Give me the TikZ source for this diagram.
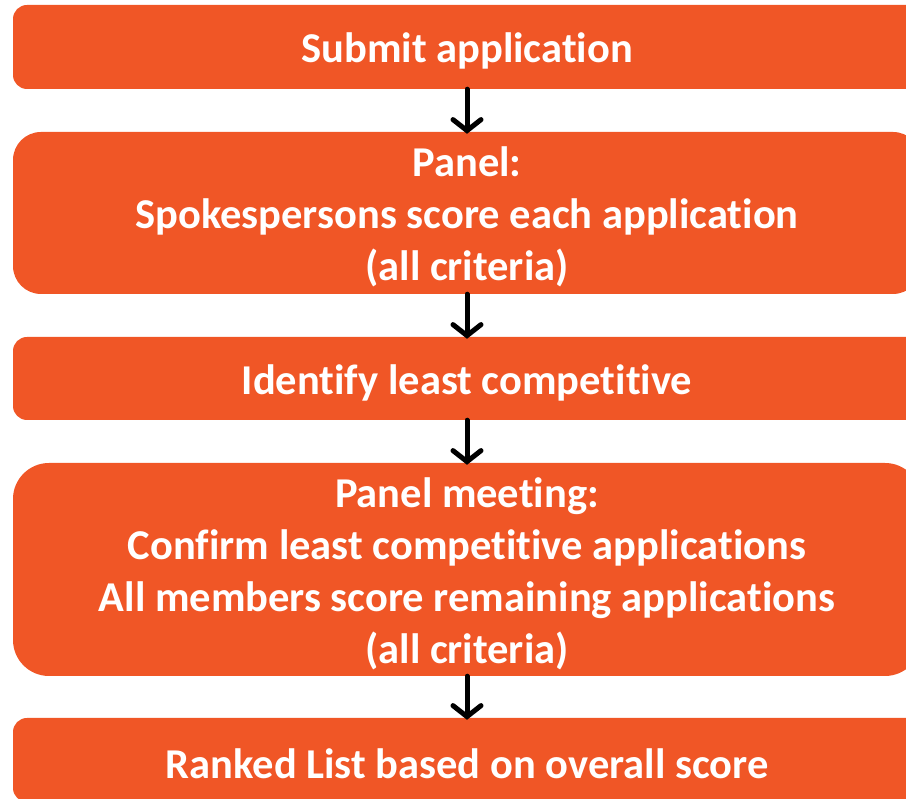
\documentclass[tikz,border=0pt]{standalone}
\usepackage{fontspec}
\setmainfont[Ligatures=NoCommon]{Carlito}
\usetikzlibrary{arrows.meta}
\definecolor{boxorange}{RGB}{240,86,38}
\tikzset{
  stepbox/.style={fill=boxorange, draw=none, minimum width=908pt, inner sep=0pt},
  boxtext/.style={text=white, align=center, inner sep=0pt, yshift=-4pt,
    font=\bfseries\fontsize{42.5}{52}\selectfont},
  flowarrow/.style={line width=5pt, line cap=round,
    -{Straight Barb[length=11pt,width=28pt,line cap=round]}}
}
\begin{document}
\begin{tikzpicture}[x=1pt,y=1pt]
\useasboundingbox (0,0) rectangle (906,799);
\clip (0,0) rectangle (906,799);
\node[stepbox, minimum height=84pt, rounded corners=14pt] (b1) at (467,752) {};
\node[stepbox, minimum height=162pt, rounded corners=28pt] (b2) at (467,586) {};
\node[stepbox, minimum height=83pt, rounded corners=14pt] (b3) at (467,420.5) {};
\node[stepbox, minimum height=213pt, rounded corners=36pt] (b4) at (467,229.5) {};
\node[stepbox, minimum height=84pt, rounded corners=14pt] (b5) at (467,39) {};
\node[boxtext] (t1) at (b1.center) {Submit application};
\node[boxtext] (t2) at (b2.center) {Panel:\\Spokespersons score each application\\(all criteria)};
\node[boxtext] (t3) at (b3.center) {Identify least competitive};
\node[boxtext] (t4) at (b4.center) {Panel meeting:\\Confirm least competitive applications\\All members score remaining applications\\(all criteria)};
\node[boxtext] (t5) at (b5.center) {Ranked List based on overall score};
\draw[flowarrow] (b1.south) -- ([yshift=-2pt]b2.north);
\draw[flowarrow] (b2.south) -- ([yshift=-2pt]b3.north);
\draw[flowarrow] (b3.south) -- ([yshift=-2pt]b4.north);
\draw[flowarrow] (b4.south) -- ([yshift=-2pt]b5.north);
\end{tikzpicture}
\end{document}
